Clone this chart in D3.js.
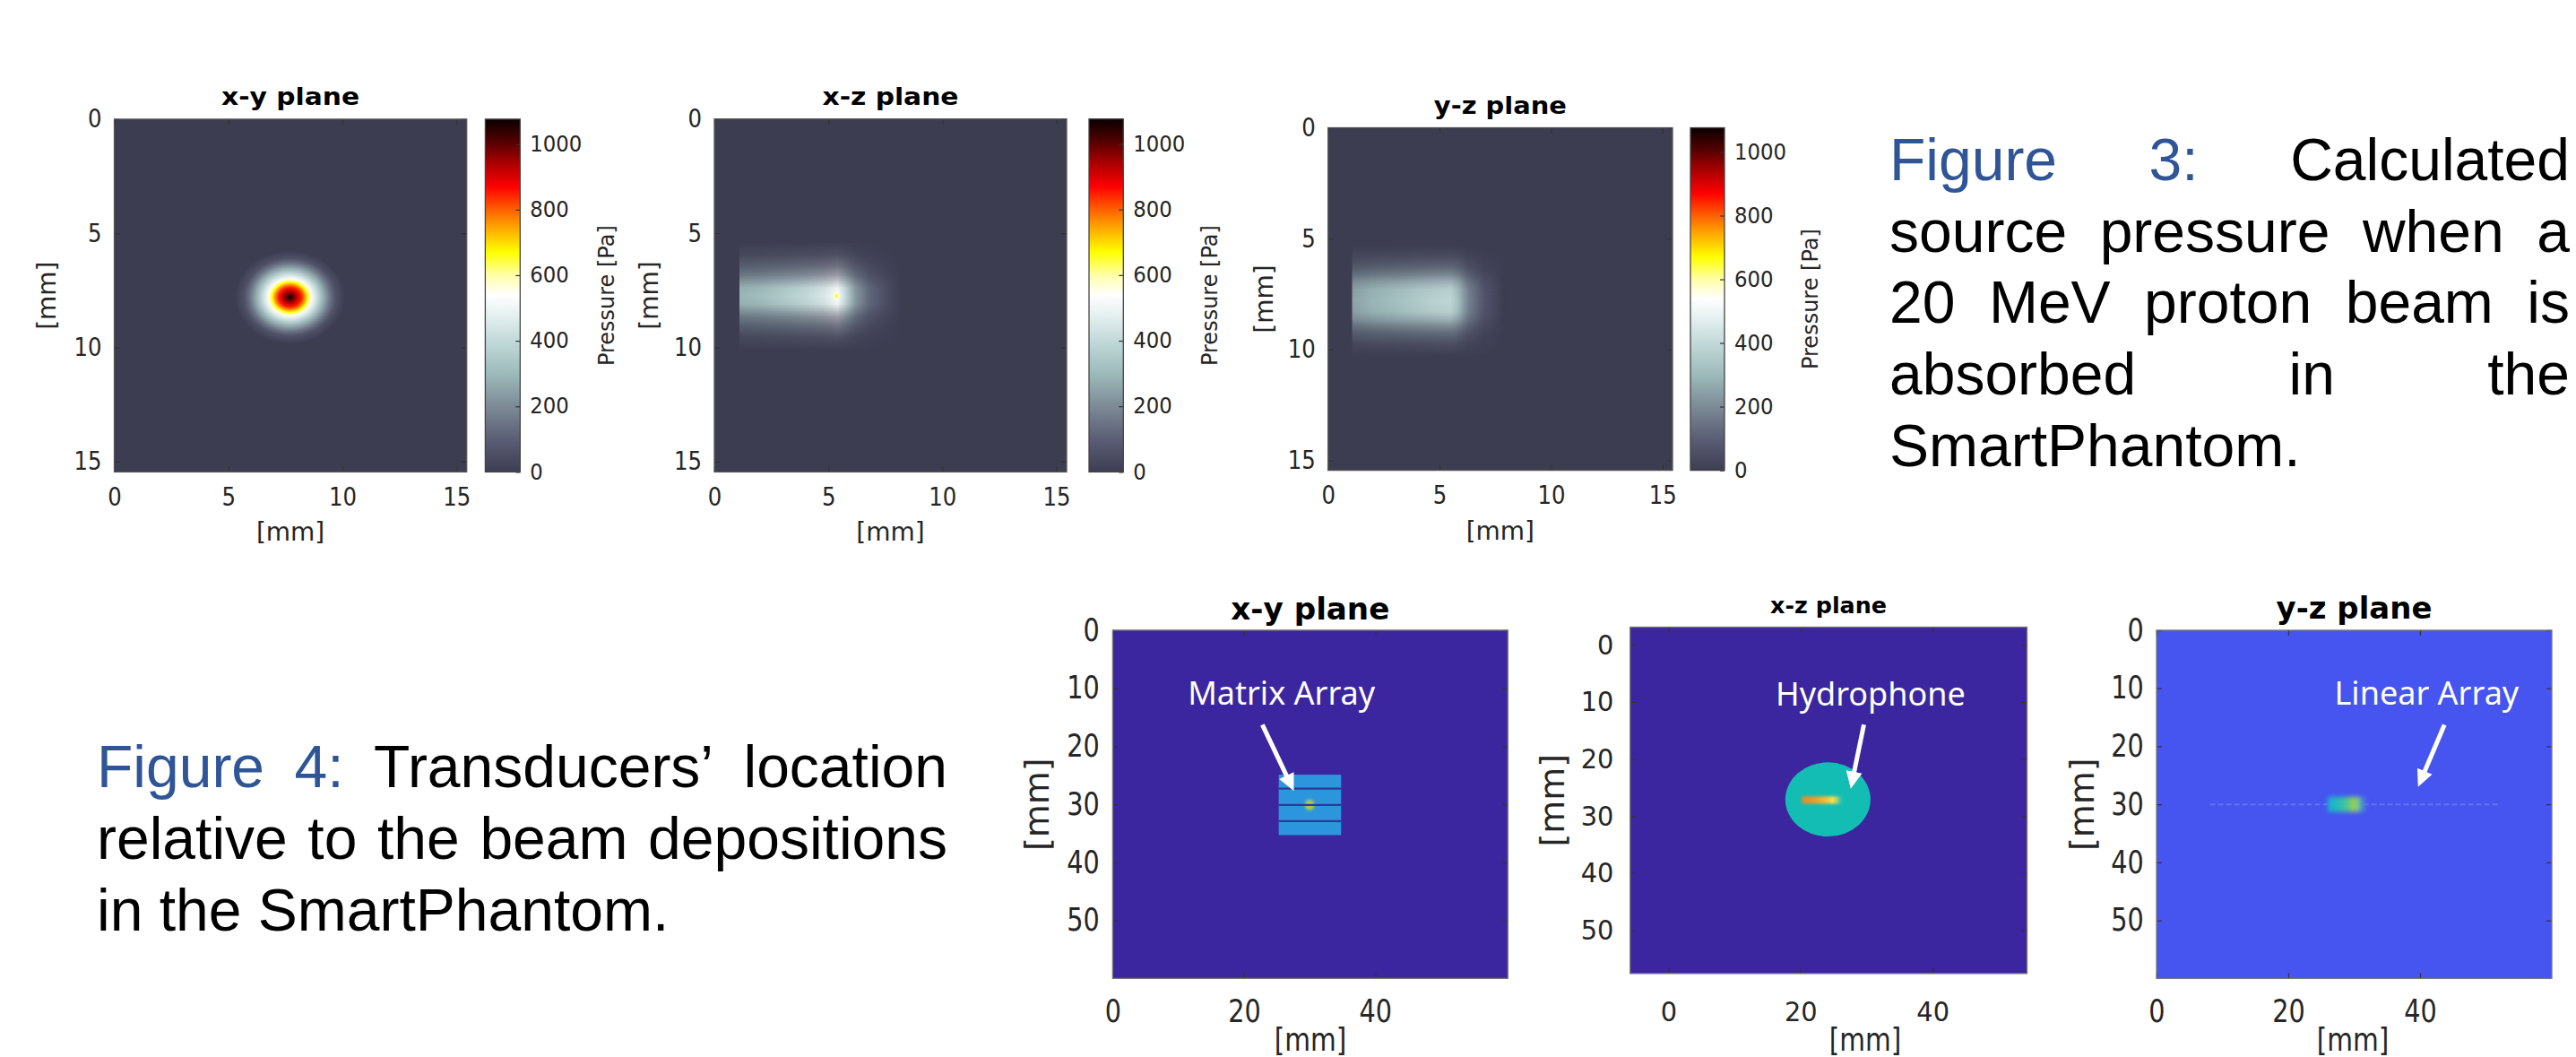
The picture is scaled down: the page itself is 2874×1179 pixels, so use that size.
<!DOCTYPE html>
<html><head><meta charset="utf-8">
<script src="https://cdn.jsdelivr.net/npm/d3@7"></script>
<style>html,body{margin:0;padding:0;background:#fff;overflow:hidden}</style>
</head><body>
<script>
// ================= DATA =================
// top row (Figure 3)
const topTitles = ["x-y plane", "x-z plane", "y-z plane"];
const topTitleWidths = [154, 152, 148];
const topTickValues = [0, 5, 10, 15];
const topDomainMax = 15.45;
const colorbarTicks = [0, 200, 400, 600, 800, 1000];
const pressureMax = 1076;
const colorbarLabel = "Pressure [Pa]";
const axisLabel = "[mm]";
// colormap
const cmapValues = [0, 100, 200, 300, 400, 480, 540, 600, 670, 750, 800, 870, 950, 1010, 1076];
const cmapColors = ["#3d3d52", "#5b5e75", "#7c8a96", "#9dbaba", "#c2d9d9", "#e6f0f0", "#ffffff", "#ffffa8",
                    "#ffff00", "#ffa000", "#ff6000", "#ff0000", "#a00000", "#500000", "#0a0000"];
// x-y plane: radial pressure profile of the beam spot
const xySpotCenter = [7.7, 7.8];
const xySpotRadius = [0, 0.12, 0.3, 0.5, 0.65, 0.78, 0.92, 1.05, 1.25, 1.5, 1.75, 2.0, 2.4];
const xySpotPressure = [1076, 1010, 930, 850, 760, 660, 560, 480, 380, 260, 150, 60, 0];
const xySpotAspect = [1, 0.85];
// x-z plane: pressure along the beam axis and the relative transverse profile
const xzBeamX = [1.1, 2.0, 3.0, 4.0, 4.8, 5.2, 5.4, 5.7, 6.2, 6.8, 7.5, 8.2];
const xzBeamP = [290, 310, 350, 400, 450, 500, 530, 420, 230, 120, 50, 0];
const xzBeamCenter = [7.75];
const xzBeamOffset = [0, 0.35, 0.6, 0.9, 1.3, 1.8, 2.4];
const xzBeamRel = [1, 0.95, 0.75, 0.5, 0.28, 0.1, 0];
const xzPeak = [5.35, 7.75, 0.18, 680];
// y-z plane
const yzBeamX = [1.07, 2.0, 3.0, 4.0, 5.0, 5.5, 5.8, 6.3, 7.0, 7.9];
const yzBeamP = [250, 290, 320, 350, 380, 390, 330, 180, 70, 0];
const yzBeamCenter = [7.8];
const yzBeamOffset = [0, 0.5, 0.85, 1.15, 1.5, 2.0, 2.5];
const yzBeamRel = [1, 0.95, 0.75, 0.5, 0.28, 0.1, 0];

// bottom row (Figure 4)
const bottomTitles = ["x-y plane", "x-z plane", "y-z plane"];
const bottomTitleWidths = [177, 130, 174];
const bottomXTicks = [0, 20, 40];
const bottomYTicks = [0, 10, 20, 30, 40, 50];
const bottomXDomains = [[0, 60.2], [-5.8, 54.3], [0, 60]];
const bottomYDomains = [[0, 60], [-3.1, 57.6], [0, 60]];
const bottomBackgrounds = ["#3b26a0", "#3b26a0", "#4654f0"];
const annotationLabels = ["Matrix Array", "Hydrophone", "Linear Array"];
const annotationPos = [[25.7, 12.8], [30.6, 10.7], [41.0, 12.8]];
const arrowStart = [[22.8, 16.3], [29.6, 14.0], [43.7, 16.3]];
const arrowEnd = [[27.6, 27.7], [27.6, 25.2], [39.7, 27.0]];
// matrix array
const matrixX = [25.3, 34.8];
const matrixY = [24.9, 35.3];
const matrixDividersY = [27.3, 30.1, 32.9];
const matrixSpot = [30.0, 30.1, 1.2, 1.5];
// hydrophone
const hydroCenter = [24.15, 27.1];
const hydroRadius = [6.45, 6.5];
const hydroBeamX = [20.2, 22.0, 24.0, 24.9, 25.6, 26.6];
const hydroBeamColors = ["#e08a2c", "#e99a2e", "#f2c038", "#f8e44a", "#9fcf78", "#14bdb3"];
const hydroBeamY = [27.2, 0.65];
// linear array
const linearLineX = [8.1, 52.1];
const linearLineY = [30.0];
const linearBeamX = [26.0, 27.5, 29.0, 30.1, 30.8, 32.3];
const linearBeamColors = ["#1cb2d2", "#22bcbc", "#4cc690", "#a8d040", "#50bfae", "#4654f0"];
const linearBeamY = [30.0, 1.3];

// captions
const fig3Lines = [["Figure", "3:", "Calculated"], ["source", "pressure", "when", "a"],
                   ["20", "MeV", "proton", "beam", "is"], ["absorbed", "in", "the"], ["SmartPhantom."]];
const fig3Blue = [2, 0, 0, 0, 0];
const fig4Lines = [["Figure", "4:", "Transducers’", "location"], ["relative", "to", "the", "beam", "depositions"],
                   ["in", "the", "SmartPhantom."]];
const fig4Blue = [2, 0, 0];

// ================= LAYOUT =================
const W = 2874, H = 1179;
const topBoxes = [
  {x0: 127.5, x1: 520.7, y0: 132.9, y1: 526.4},
  {x0: 797, x1: 1190, y0: 132.7, y1: 526.4},
  {x0: 1481.7, x1: 1866, y0: 142.5, y1: 524.6}];
const topCbars = [{x0: 541.4, x1: 580.3}, {x0: 1215, x1: 1253.3}, {x0: 1886, x1: 1924}];
const topYLabelX = [53.6, 725.4, 1411.3];
const botBoxes = [
  {x0: 1241.4, x1: 1682.3, y0: 702.9, y1: 1091.4},
  {x0: 1818.7, x1: 2261.5, y0: 699.5, y1: 1085.9},
  {x0: 2406, x1: 2847, y0: 703, y1: 1091.4}];
const botTitleBase = [690.9, 684, 689.8];
const botTickFont = [35, 31, 35];
const botTickCondense = [0.82, 0.93, 0.82];
const botXPad = [23.8, 30.8, 23.8];
const botYPad = [14.6, 18.3, 14.3];
const botYLabelX = [1157.6, 1733.4, 2323.6];
const botXLabelX = [1462, 2081, 2625];

const TICK_FONT = "'DejaVu Sans', sans-serif";
const CAP_FONT = "'Liberation Sans', Arial, sans-serif";
const BLUE = "#2f5597";

const svg = d3.select("body").append("svg").attr("width", W).attr("height", H).style("display", "block");
const defs = svg.append("defs");
svg.append("rect").attr("width", W).attr("height", H).attr("fill", "#fff");

const cmap = d3.scaleLinear().domain(cmapValues).range(cmapColors).clamp(true);

function condense(sel, f) {
  sel.each(function () {
    const L = this.getComputedTextLength();
    if (L > 0) d3.select(this).attr("textLength", L * f).attr("lengthAdjust", "spacingAndGlyphs");
  });
}
function styleAxis(g, fs, f) {
  g.attr("font-size", null).attr("font-family", null);
  g.select(".domain").remove();
  g.selectAll(".tick line").attr("stroke", "#333").attr("stroke-width", 1.2);
  const t = g.selectAll("text").attr("fill", "#262626").attr("font-size", fs).attr("font-family", TICK_FONT);
  if (f && f !== 1) condense(t, f);
}
function rotLabel(g, text, cx, cy, fs, off) {
  g.append("text").attr("transform", `translate(${cx + off * fs},${cy}) rotate(-90)`)
    .attr("text-anchor", "middle").attr("font-family", TICK_FONT).attr("font-size", fs)
    .attr("fill", "#262626").text(text);
}
function addBox(g, b, color) {
  g.append("rect").attr("x", b.x0).attr("y", b.y0).attr("width", b.x1 - b.x0).attr("height", b.y1 - b.y0)
    .attr("fill", "none").attr("stroke", color).attr("stroke-width", 1.3);
}
function clipFor(id, b) {
  defs.append("clipPath").attr("id", id).append("rect")
    .attr("x", b.x0).attr("y", b.y0).attr("width", b.x1 - b.x0).attr("height", b.y1 - b.y0);
  return `url(#${id})`;
}
function beam(plot, x, y, id, bx, bp, center, offs, rel) {
  const maxOff = offs[offs.length - 1];
  const x0 = x(bx[0]), x1 = x(bx[bx.length - 1]);
  const hg = defs.append("linearGradient").attr("id", id + "h").attr("gradientUnits", "userSpaceOnUse")
    .attr("x1", x0).attr("x2", x1).attr("y1", 0).attr("y2", 0);
  bx.forEach((v, i) => hg.append("stop").attr("offset", (x(v) - x0) / (x1 - x0)).attr("stop-color", cmap(bp[i])));
  const vg = defs.append("linearGradient").attr("id", id + "v").attr("x1", 0).attr("x2", 0).attr("y1", 0).attr("y2", 1);
  const stops = [];
  for (let i = offs.length - 1; i >= 0; i--) stops.push([(maxOff - offs[i]) / (2 * maxOff), rel[i]]);
  for (let i = 1; i < offs.length; i++) stops.push([(maxOff + offs[i]) / (2 * maxOff), rel[i]]);
  stops.forEach(s => vg.append("stop").attr("offset", s[0]).attr("stop-color", "#fff").attr("stop-opacity", s[1]));
  const yt = y(center - maxOff), yb = y(center + maxOff);
  const m = defs.append("mask").attr("id", id + "m").attr("maskUnits", "userSpaceOnUse")
    .attr("x", x0 - 2).attr("y", yt - 2).attr("width", x1 - x0 + 4).attr("height", yb - yt + 4);
  m.append("rect").attr("x", x0).attr("y", yt).attr("width", x1 - x0).attr("height", yb - yt).attr("fill", `url(#${id}v)`);
  plot.append("rect").attr("x", x0).attr("y", yt).attr("width", x1 - x0).attr("height", yb - yt)
    .attr("fill", `url(#${id}h)`).attr("mask", `url(#${id}m)`);
}

// blur filters
const blur = defs.append("filter").attr("id", "soft").attr("x", "-30%").attr("y", "-60%").attr("width", "160%").attr("height", "220%");
blur.append("feGaussianBlur").attr("stdDeviation", 1.6);
const blur2 = defs.append("filter").attr("id", "soft2").attr("x", "-30%").attr("y", "-60%").attr("width", "160%").attr("height", "220%");
blur2.append("feGaussianBlur").attr("stdDeviation", 2.6);

// ================= TOP ROW =================
topBoxes.forEach((b, i) => {
  const x = d3.scaleLinear().domain([0, topDomainMax]).range([b.x0, b.x1]);
  const y = d3.scaleLinear().domain([0, topDomainMax]).range([b.y0, b.y1]);
  const g = svg.append("g");
  const plot = g.append("g").attr("clip-path", clipFor("ct" + i, b));
  plot.append("rect").attr("x", b.x0).attr("y", b.y0).attr("width", b.x1 - b.x0).attr("height", b.y1 - b.y0)
    .attr("fill", cmap(0));

  if (i === 0) {
    const rmax = xySpotRadius[xySpotRadius.length - 1];
    const rg = defs.append("radialGradient").attr("id", "xyspot");
    xySpotRadius.forEach((r, k) => rg.append("stop").attr("offset", r / rmax).attr("stop-color", cmap(xySpotPressure[k])));
    plot.append("ellipse").attr("cx", x(xySpotCenter[0])).attr("cy", y(xySpotCenter[1]))
      .attr("rx", (x(rmax) - x(0)) * xySpotAspect[0]).attr("ry", (y(rmax) - y(0)) * xySpotAspect[1])
      .attr("fill", "url(#xyspot)");
  } else if (i === 1) {
    beam(plot, x, y, "xz", xzBeamX, xzBeamP, xzBeamCenter[0], xzBeamOffset, xzBeamRel);
    const pg = defs.append("radialGradient").attr("id", "xzpeak");
    pg.append("stop").attr("offset", 0).attr("stop-color", cmap(xzPeak[3]));
    pg.append("stop").attr("offset", 0.5).attr("stop-color", cmap(600)).attr("stop-opacity", 0.8);
    pg.append("stop").attr("offset", 1).attr("stop-color", cmap(540)).attr("stop-opacity", 0);
    plot.append("ellipse").attr("cx", x(xzPeak[0])).attr("cy", y(xzPeak[1]))
      .attr("rx", x(xzPeak[2]) - x(0)).attr("ry", y(xzPeak[2] * 1.3) - y(0)).attr("fill", "url(#xzpeak)");
  } else {
    beam(plot, x, y, "yz", yzBeamX, yzBeamP, yzBeamCenter[0], yzBeamOffset, yzBeamRel);
  }

  // axes
  const ab = g.append("g").attr("transform", `translate(0,${b.y1})`)
    .call(d3.axisBottom(x).tickValues(topTickValues).tickSizeInner(-6).tickSizeOuter(0).tickPadding(18));
  styleAxis(ab, 28, 0.87);
  const al = g.append("g").attr("transform", `translate(${b.x0},0)`)
    .call(d3.axisLeft(y).tickValues(topTickValues).tickSizeInner(-6).tickSizeOuter(0).tickPadding(14));
  styleAxis(al, 28, 0.87);
  const at = g.append("g").attr("transform", `translate(0,${b.y0})`)
    .call(d3.axisTop(x).tickValues(topTickValues).tickSizeInner(-6).tickSizeOuter(0).tickFormat(""));
  styleAxis(at, 28, 1);
  const ar = g.append("g").attr("transform", `translate(${b.x1},0)`)
    .call(d3.axisRight(y).tickValues(topTickValues).tickSizeInner(-6).tickSizeOuter(0).tickFormat(""));
  styleAxis(ar, 28, 1);
  addBox(g, b, "#555");

  // title & labels
  g.append("text").attr("x", (b.x0 + b.x1) / 2).attr("y", b.y0 - 16).attr("text-anchor", "middle")
    .attr("font-family", TICK_FONT).attr("font-weight", "bold").attr("font-size", 26)
    .attr("textLength", topTitleWidths[i]).attr("lengthAdjust", "spacingAndGlyphs").text(topTitles[i]);
  g.append("text").attr("x", (b.x0 + b.x1) / 2).attr("y", b.y1 + 77).attr("text-anchor", "middle")
    .attr("font-family", TICK_FONT).attr("font-size", 28).attr("fill", "#262626").text(axisLabel);
  rotLabel(g, axisLabel, topYLabelX[i], (b.y0 + b.y1) / 2, 28, 0.315);

  // colorbar
  const cb = topCbars[i];
  const cy = d3.scaleLinear().domain([0, pressureMax]).range([b.y1, b.y0]);
  const lg = defs.append("linearGradient").attr("id", "cbg" + i).attr("x1", 0).attr("x2", 0).attr("y1", 1).attr("y2", 0);
  cmapValues.forEach((v, k) => lg.append("stop").attr("offset", v / pressureMax).attr("stop-color", cmapColors[k]));
  g.append("rect").attr("x", cb.x0).attr("y", b.y0).attr("width", cb.x1 - cb.x0).attr("height", b.y1 - b.y0)
    .attr("fill", `url(#cbg${i})`);
  const ac = g.append("g").attr("transform", `translate(${cb.x1},0)`)
    .call(d3.axisRight(cy).tickValues(colorbarTicks).tickFormat(d3.format("d"))
      .tickSizeInner(-5).tickSizeOuter(0).tickPadding(11));
  styleAxis(ac, 24, 0.95);
  addBox(g, {x0: cb.x0, x1: cb.x1, y0: b.y0, y1: b.y1}, "#444");
  rotLabel(g, colorbarLabel, cb.x1 + 97, (b.y0 + b.y1) / 2, 24, 0.3);
});

// ================= BOTTOM ROW =================
function arrow(g, p0, p1) {
  const dx = p1[0] - p0[0], dy = p1[1] - p0[1], L = Math.hypot(dx, dy);
  const ux = dx / L, uy = dy / L, nx = -uy, ny = ux;
  const hl = 19, hw = 9;
  const bx = p1[0] - ux * hl, by = p1[1] - uy * hl;
  g.append("line").attr("x1", p0[0]).attr("y1", p0[1]).attr("x2", bx + ux * 3).attr("y2", by + uy * 3)
    .attr("stroke", "#fff").attr("stroke-width", 5);
  g.append("path").attr("d", `M${p1[0]},${p1[1]}L${bx + nx * hw},${by + ny * hw}L${bx - nx * hw},${by - ny * hw}Z`)
    .attr("fill", "#fff");
}
function hGrad(id, x, xs, colors) {
  const x0 = x(xs[0]), x1 = x(xs[xs.length - 1]);
  const gr = defs.append("linearGradient").attr("id", id).attr("gradientUnits", "userSpaceOnUse")
    .attr("x1", x0).attr("x2", x1).attr("y1", 0).attr("y2", 0);
  xs.forEach((v, k) => gr.append("stop").attr("offset", (x(v) - x0) / (x1 - x0)).attr("stop-color", colors[k])
    .attr("stop-opacity", k === xs.length - 1 ? 0 : 1));
  return `url(#${id})`;
}

botBoxes.forEach((b, i) => {
  const x = d3.scaleLinear().domain(bottomXDomains[i]).range([b.x0, b.x1]);
  const y = d3.scaleLinear().domain(bottomYDomains[i]).range([b.y0, b.y1]);
  const g = svg.append("g");
  const plot = g.append("g").attr("clip-path", clipFor("cb" + i, b));
  plot.append("rect").attr("x", b.x0).attr("y", b.y0).attr("width", b.x1 - b.x0).attr("height", b.y1 - b.y0)
    .attr("fill", bottomBackgrounds[i]);

  if (i === 0) {
    plot.append("rect").attr("x", x(matrixX[0])).attr("y", y(matrixY[0]))
      .attr("width", x(matrixX[1]) - x(matrixX[0])).attr("height", y(matrixY[1]) - y(matrixY[0]))
      .attr("fill", "#2b96dd");
    const sg = defs.append("radialGradient").attr("id", "mspot");
    sg.append("stop").attr("offset", 0).attr("stop-color", "#d2c83a");
    sg.append("stop").attr("offset", 0.45).attr("stop-color", "#9cc45c");
    sg.append("stop").attr("offset", 1).attr("stop-color", "#2b96dd").attr("stop-opacity", 0);
    plot.append("ellipse").attr("cx", x(matrixSpot[0])).attr("cy", y(matrixSpot[1]))
      .attr("rx", x(matrixSpot[2]) - x(0)).attr("ry", y(matrixSpot[3]) - y(0)).attr("fill", "url(#mspot)");
    plot.selectAll(".div").data(matrixDividersY).join("line")
      .attr("x1", x(matrixX[0])).attr("x2", x(matrixX[1])).attr("y1", d => y(d)).attr("y2", d => y(d))
      .attr("stroke", "#2c3a96").attr("stroke-width", 2.2);
  } else if (i === 1) {
    plot.append("ellipse").attr("cx", x(hydroCenter[0])).attr("cy", y(hydroCenter[1]))
      .attr("rx", x(hydroCenter[0] + hydroRadius[0]) - x(hydroCenter[0]))
      .attr("ry", y(hydroCenter[1] + hydroRadius[1]) - y(hydroCenter[1])).attr("fill", "#14bdb3");
    plot.append("rect").attr("x", x(hydroBeamX[0])).attr("y", y(hydroBeamY[0] - hydroBeamY[1]))
      .attr("width", x(hydroBeamX[hydroBeamX.length - 1]) - x(hydroBeamX[0]))
      .attr("height", y(hydroBeamY[0] + hydroBeamY[1]) - y(hydroBeamY[0] - hydroBeamY[1]))
      .attr("fill", hGrad("hbeam", x, hydroBeamX, hydroBeamColors)).attr("filter", "url(#soft)");
  } else {
    plot.append("line").attr("x1", x(linearLineX[0])).attr("x2", x(linearLineX[1]))
      .attr("y1", y(linearLineY[0])).attr("y2", y(linearLineY[0]))
      .attr("stroke", "#6a7bf4").attr("stroke-width", 2).attr("stroke-dasharray", "6,3").attr("opacity", 0.8);
    plot.append("rect").attr("x", x(linearBeamX[0])).attr("y", y(linearBeamY[0] - linearBeamY[1]))
      .attr("width", x(linearBeamX[linearBeamX.length - 1]) - x(linearBeamX[0]))
      .attr("height", y(linearBeamY[0] + linearBeamY[1]) - y(linearBeamY[0] - linearBeamY[1]))
      .attr("fill", hGrad("lbeam", x, linearBeamX, linearBeamColors)).attr("filter", "url(#soft2)");
  }

  // annotation
  plot.append("text").attr("x", x(annotationPos[i][0])).attr("y", y(annotationPos[i][1]))
    .attr("text-anchor", "middle").attr("font-family", "'Noto Sans', 'Open Sans', sans-serif")
    .attr("font-size", 36).attr("fill", "#fff").text(annotationLabels[i]);
  arrow(plot, [x(arrowStart[i][0]), y(arrowStart[i][1])], [x(arrowEnd[i][0]), y(arrowEnd[i][1])]);

  // axes
  const fs = botTickFont[i], cf = botTickCondense[i];
  const ab = g.append("g").attr("transform", `translate(0,${b.y1})`)
    .call(d3.axisBottom(x).tickValues(bottomXTicks).tickSizeInner(-6).tickSizeOuter(0).tickPadding(botXPad[i]));
  styleAxis(ab, fs, cf);
  const al = g.append("g").attr("transform", `translate(${b.x0},0)`)
    .call(d3.axisLeft(y).tickValues(bottomYTicks).tickSizeInner(-6).tickSizeOuter(0).tickPadding(botYPad[i]));
  styleAxis(al, fs, cf);
  const at = g.append("g").attr("transform", `translate(0,${b.y0})`)
    .call(d3.axisTop(x).tickValues(bottomXTicks).tickSizeInner(-6).tickSizeOuter(0).tickFormat(""));
  styleAxis(at, fs, 1);
  const ar = g.append("g").attr("transform", `translate(${b.x1},0)`)
    .call(d3.axisRight(y).tickValues(bottomYTicks).tickSizeInner(-6).tickSizeOuter(0).tickFormat(""));
  styleAxis(ar, fs, 1);
  addBox(g, b, "#777");

  g.append("text").attr("x", (b.x0 + b.x1) / 2).attr("y", botTitleBase[i]).attr("text-anchor", "middle")
    .attr("font-family", TICK_FONT).attr("font-weight", "bold").attr("font-size", i === 1 ? 25 : 33)
    .attr("textLength", bottomTitleWidths[i]).attr("lengthAdjust", "spacingAndGlyphs").text(bottomTitles[i]);
  const xl = g.append("text").attr("x", botXLabelX[i]).attr("y", 1172).attr("text-anchor", "middle")
    .attr("font-family", TICK_FONT).attr("font-size", 36).attr("fill", "#262626").text(axisLabel);
  condense(xl, 0.82);
  rotLabel(g, axisLabel, botYLabelX[i], (b.y0 + b.y1) / 2, 38, 0.315);
});

// ================= CAPTIONS =================
function drawCaption(lines, blue, x0, x1, base0, lh, fs) {
  const g = svg.append("g").attr("font-family", CAP_FONT).attr("font-size", fs);
  lines.forEach((words, li) => {
    const yy = base0 + li * lh;
    const texts = words.map((w, wi) => g.append("text").attr("y", yy)
      .attr("fill", wi < blue[li] ? BLUE : "#000").text(w));
    const widths = texts.map(t => t.node().getComputedTextLength());
    const total = d3.sum(widths);
    const last = li === lines.length - 1;
    const gap = (last || words.length < 2) ? fs * 0.278 : (x1 - x0 - total) / (words.length - 1);
    let cx = x0;
    texts.forEach((t, k) => { t.attr("x", cx); cx += widths[k] + gap; });
  });
}
drawCaption(fig3Lines, fig3Blue, 2108, 2867, 200.7, 79.8, 66);
drawCaption(fig4Lines, fig4Blue, 108, 1057, 878.3, 80, 66);
</script>
</body></html>
